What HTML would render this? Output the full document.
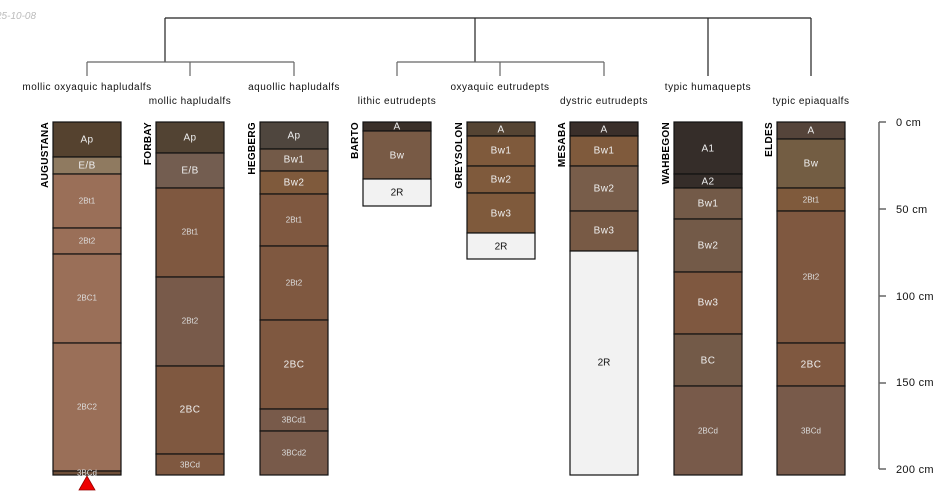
<!DOCTYPE html>
<html><head><meta charset="utf-8"><style>
html,body{margin:0;padding:0;background:#fff;width:950px;height:500px;overflow:hidden}
svg{display:block;font-family:"Liberation Sans",sans-serif}
.h rect{stroke:#111;stroke-width:1.2}
.l{fill:#eee;font-size:10px;text-anchor:middle;dominant-baseline:central;letter-spacing:0.4px}
.s{fill:#ddd;font-size:8px;text-anchor:middle;dominant-baseline:central}
.k{fill:#111;font-size:10px;text-anchor:middle;dominant-baseline:central}
.n{fill:#000;font-size:10px;font-weight:bold;text-anchor:end;letter-spacing:0.3px}
.t{fill:#111;font-size:10px;text-anchor:middle;letter-spacing:0.5px}
</style></head><body>
<svg width="950" height="500" viewBox="0 0 950 500">
<text x="-4" y="19" font-size="10" font-style="italic" fill="#bbb">25-10-08</text>
<g stroke="#222" stroke-width="1.2" fill="none">
<path d="M165 18H811M165 18V62M475 18V62M708 18V76M811 18V76"/>
<path d="M87 62H294M87 62V76M190 62V76M294 62V76" stroke="#666"/>
<path d="M397 62H604M397 62V76M500 62V76M604 62V76" stroke="#666"/>
</g>
<g class="t">
<text x="87" y="90">mollic oxyaquic hapludalfs</text>
<text x="190" y="104">mollic hapludalfs</text>
<text x="294" y="90">aquollic hapludalfs</text>
<text x="397" y="104">lithic eutrudepts</text>
<text x="500" y="90">oxyaquic eutrudepts</text>
<text x="604" y="104">dystric eutrudepts</text>
<text x="708" y="90">typic humaquepts</text>
<text x="811" y="104">typic epiaqualfs</text>
</g>
<text class="n" transform="translate(48,122) rotate(-90)">AUGUSTANA</text>
<text class="n" transform="translate(151,122) rotate(-90)">FORBAY</text>
<text class="n" transform="translate(255,122) rotate(-90)">HEGBERG</text>
<text class="n" transform="translate(358,122) rotate(-90)">BARTO</text>
<text class="n" transform="translate(462,122) rotate(-90)">GREYSOLON</text>
<text class="n" transform="translate(565,122) rotate(-90)">MESABA</text>
<text class="n" transform="translate(669,122) rotate(-90)">WAHBEGON</text>
<text class="n" transform="translate(772,122) rotate(-90)">ELDES</text>
<g class="h">
<rect x="53" y="122" width="68" height="35" fill="#55422f"/>
<rect x="53" y="157" width="68" height="17" fill="#8f7a60"/>
<rect x="53" y="174" width="68" height="54" fill="#9a6f58"/>
<rect x="53" y="228" width="68" height="26" fill="#9a6f58"/>
<rect x="53" y="254" width="68" height="89" fill="#9a6f58"/>
<rect x="53" y="343" width="68" height="128" fill="#9a6f58"/>
<rect x="53" y="471" width="68" height="4" fill="#6e4e38"/>
<rect x="156" y="122" width="68" height="31" fill="#524333"/>
<rect x="156" y="153" width="68" height="35" fill="#735d50"/>
<rect x="156" y="188" width="68" height="89" fill="#7f5840"/>
<rect x="156" y="277" width="68" height="89" fill="#785a4a"/>
<rect x="156" y="366" width="68" height="88" fill="#7f5840"/>
<rect x="156" y="454" width="68" height="21" fill="#7f5840"/>
<rect x="260" y="122" width="68" height="27" fill="#4f463e"/>
<rect x="260" y="149" width="68" height="22" fill="#735a48"/>
<rect x="260" y="171" width="68" height="23" fill="#7f5a3c"/>
<rect x="260" y="194" width="68" height="52" fill="#7f5840"/>
<rect x="260" y="246" width="68" height="74" fill="#7f5840"/>
<rect x="260" y="320" width="68" height="89" fill="#7f5840"/>
<rect x="260" y="409" width="68" height="22" fill="#785a4a"/>
<rect x="260" y="431" width="68" height="44" fill="#785a4a"/>
<rect x="363" y="122" width="68" height="9" fill="#3a3029"/>
<rect x="363" y="131" width="68" height="48" fill="#785a45"/>
<rect x="363" y="179" width="68" height="27" fill="#f2f2f2" stroke="#666"/>
<rect x="467" y="122" width="68" height="14" fill="#554433"/>
<rect x="467" y="136" width="68" height="30" fill="#7f5a3c"/>
<rect x="467" y="166" width="68" height="27" fill="#7f5a3c"/>
<rect x="467" y="193" width="68" height="40" fill="#7f5a3c"/>
<rect x="467" y="233" width="68" height="26" fill="#f2f2f2" stroke="#666"/>
<rect x="570" y="122" width="68" height="14" fill="#3a2f2a"/>
<rect x="570" y="136" width="68" height="30" fill="#7f5a3c"/>
<rect x="570" y="166" width="68" height="45" fill="#785d4a"/>
<rect x="570" y="211" width="68" height="40" fill="#785a45"/>
<rect x="570" y="251" width="68" height="224" fill="#f2f2f2" stroke="#666"/>
<rect x="674" y="122" width="68" height="52" fill="#352d29"/>
<rect x="674" y="174" width="68" height="14" fill="#352d29"/>
<rect x="674" y="188" width="68" height="31" fill="#735a48"/>
<rect x="674" y="219" width="68" height="53" fill="#735a48"/>
<rect x="674" y="272" width="68" height="62" fill="#7f5840"/>
<rect x="674" y="334" width="68" height="52" fill="#735a48"/>
<rect x="674" y="386" width="68" height="89" fill="#785a4a"/>
<rect x="777" y="122" width="68" height="17" fill="#55443a"/>
<rect x="777" y="139" width="68" height="49" fill="#735d43"/>
<rect x="777" y="188" width="68" height="23" fill="#7f5a3c"/>
<rect x="777" y="211" width="68" height="132" fill="#7f5840"/>
<rect x="777" y="343" width="68" height="43" fill="#7f5840"/>
<rect x="777" y="386" width="68" height="89" fill="#785a4a"/>
</g>
<text class="l" x="87" y="140">Ap</text><text class="l" x="87" y="166">E/B</text>
<text class="s" x="87" y="201">2Bt1</text><text class="s" x="87" y="241">2Bt2</text>
<text class="s" x="87" y="298">2BC1</text><text class="s" x="87" y="407">2BC2</text>
<text class="s" x="87" y="473">3BCd</text>
<text class="l" x="190" y="138">Ap</text><text class="l" x="190" y="171">E/B</text>
<text class="s" x="190" y="232">2Bt1</text><text class="s" x="190" y="321">2Bt2</text>
<text class="l" x="190" y="410">2BC</text><text class="s" x="190" y="465">3BCd</text>
<text class="l" x="294" y="136">Ap</text><text class="l" x="294" y="160">Bw1</text>
<text class="l" x="294" y="183">Bw2</text><text class="s" x="294" y="220">2Bt1</text>
<text class="s" x="294" y="283">2Bt2</text><text class="l" x="294" y="365">2BC</text>
<text class="s" x="294" y="420">3BCd1</text><text class="s" x="294" y="453">3BCd2</text>
<text class="l" x="397" y="127">A</text><text class="l" x="397" y="156">Bw</text>
<text class="k" x="397" y="193">2R</text>
<text class="l" x="501" y="130">A</text><text class="l" x="501" y="151">Bw1</text>
<text class="l" x="501" y="180">Bw2</text><text class="l" x="501" y="214">Bw3</text>
<text class="k" x="501" y="247">2R</text>
<text class="l" x="604" y="130">A</text><text class="l" x="604" y="151">Bw1</text>
<text class="l" x="604" y="189">Bw2</text><text class="l" x="604" y="231">Bw3</text>
<text class="k" x="604" y="363">2R</text>
<text class="l" x="708" y="149">A1</text><text class="l" x="708" y="182">A2</text>
<text class="l" x="708" y="204">Bw1</text><text class="l" x="708" y="246">Bw2</text>
<text class="l" x="708" y="303">Bw3</text><text class="l" x="708" y="361">BC</text>
<text class="s" x="708" y="431">2BCd</text>
<text class="l" x="811" y="131">A</text><text class="l" x="811" y="164">Bw</text>
<text class="s" x="811" y="200">2Bt1</text><text class="s" x="811" y="277">2Bt2</text>
<text class="l" x="811" y="365">2BC</text><text class="s" x="811" y="431">3BCd</text>
<polygon points="87,476 79,490 95,490" fill="#e00" stroke="#900" stroke-width="0.8"/>
<g stroke="#666" stroke-width="1.5">
<path d="M879 122V469M879 122H886M879 209H886M879 296H886M879 383H886M879 469H886"/>
</g>
<g font-size="11" fill="#111" dominant-baseline="central" letter-spacing="0.3">
<text x="896" y="123">0 cm</text><text x="896" y="210">50 cm</text>
<text x="896" y="297">100 cm</text><text x="896" y="383">150 cm</text>
<text x="896" y="470">200 cm</text>
</g>
</svg>
</body></html>
